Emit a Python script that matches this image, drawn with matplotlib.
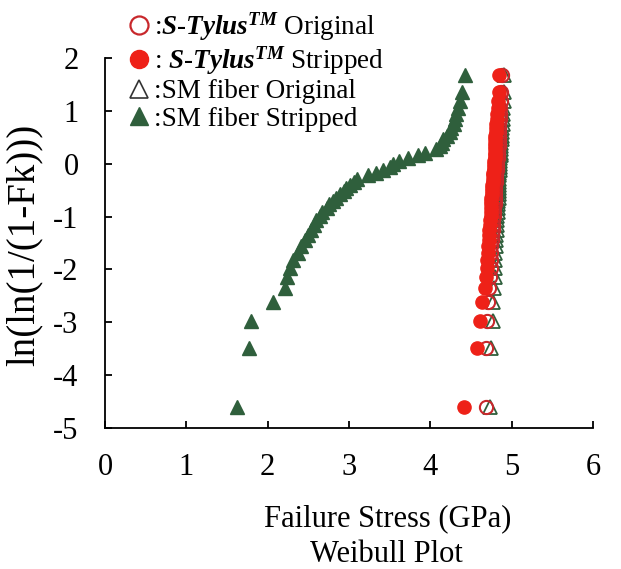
import matplotlib.pyplot as plt
from matplotlib.lines import Line2D

plt.rcParams['font.family'] = 'Liberation Serif'
plt.rcParams['axes.unicode_minus'] = False
plt.rcParams['mathtext.fontset'] = 'custom'
plt.rcParams['mathtext.rm'] = 'Liberation Serif'
plt.rcParams['mathtext.it'] = 'Liberation Serif:italic'
plt.rcParams['mathtext.bf'] = 'Liberation Serif:bold'
plt.rcParams['mathtext.bfit'] = 'Liberation Serif:italic:bold'

# rank positions ln(ln(1/(1-Fk))), 50 specimens per series
weibull_y = [-4.60, -3.49, -2.97, -2.62, -2.36, -2.15, -1.97, -1.82, -1.68, -1.56,
             -1.45, -1.34, -1.25, -1.16, -1.07, -0.99, -0.92, -0.84, -0.77, -0.71,
             -0.64, -0.58, -0.51, -0.45, -0.40, -0.34, -0.28, -0.22, -0.17, -0.11,
             -0.06, -0.01, 0.05, 0.10, 0.16, 0.21, 0.27, 0.33, 0.39, 0.46,
             0.53, 0.60, 0.68, 0.76, 0.85, 0.94, 1.05, 1.18, 1.36, 1.68]

sm_stripped = [1.62, 1.77, 1.79, 2.06, 2.21, 2.24, 2.27, 2.31, 2.37, 2.41,
               2.46, 2.49, 2.53, 2.57, 2.60, 2.64, 2.67, 2.73, 2.76, 2.80,
               2.84, 2.89, 2.94, 2.96, 3.01, 3.06, 3.10, 3.23, 3.33, 3.42,
               3.50, 3.54, 3.62, 3.73, 3.85, 3.93, 4.07, 4.12, 4.14, 4.16,
               4.20, 4.24, 4.26, 4.29, 4.30, 4.32, 4.34, 4.36, 4.39, 4.43]

sm_original = [4.73, 4.75, 4.77, 4.77, 4.78, 4.79, 4.80, 4.80, 4.80, 4.81,
               4.81, 4.81, 4.82, 4.82, 4.82, 4.82, 4.83, 4.83, 4.83, 4.83,
               4.84, 4.84, 4.84, 4.84, 4.85, 4.85, 4.85, 4.85, 4.85, 4.86,
               4.86, 4.86, 4.86, 4.86, 4.87, 4.87, 4.87, 4.87, 4.87, 4.88,
               4.88, 4.88, 4.88, 4.89, 4.89, 4.89, 4.89, 4.90, 4.90, 4.91]

st_original = [4.68, 4.69, 4.70, 4.71, 4.72, 4.73, 4.74, 4.74, 4.75, 4.75,
               4.76, 4.76, 4.77, 4.77, 4.77, 4.78, 4.78, 4.78, 4.79, 4.79,
               4.79, 4.80, 4.80, 4.80, 4.80, 4.81, 4.81, 4.81, 4.81, 4.82,
               4.82, 4.82, 4.82, 4.83, 4.83, 4.83, 4.83, 4.84, 4.84, 4.84,
               4.84, 4.85, 4.85, 4.85, 4.86, 4.86, 4.86, 4.87, 4.87, 4.88]

st_stripped = [4.42, 4.57, 4.61, 4.64, 4.67, 4.69, 4.70, 4.70, 4.71, 4.71,
               4.72, 4.72, 4.72, 4.73, 4.73, 4.74, 4.74, 4.74, 4.75, 4.75,
               4.75, 4.76, 4.76, 4.76, 4.76, 4.77, 4.77, 4.77, 4.77, 4.78,
               4.78, 4.78, 4.78, 4.79, 4.79, 4.79, 4.79, 4.80, 4.80, 4.80,
               4.80, 4.81, 4.81, 4.81, 4.82, 4.82, 4.83, 4.83, 4.84, 4.85]

labels = [r':$\mathbfit{S}$-$\mathbfit{Tylus}^{\mathbfit{TM}}$ Original',
          r': $\mathbfit{S}$-$\mathbfit{Tylus}^{\mathbfit{TM}}$ Stripped',
          ':SM fiber Original',
          ':SM fiber Stripped']

red = '#ee2118'
dred = '#c8282c'
green = '#2f5f3c'

fig = plt.figure(figsize=(6.21, 5.69), dpi=100)
ax = fig.add_axes([105/621, 1-428/569, 488/621, 370/569])

ax.plot(sm_stripped, weibull_y, '^', ms=10.5, color=green, mec=green, ls='none')
ax.plot(sm_original, weibull_y, '^', ms=10.5, mfc='none', mec=green, mew=1.3, ls='none')
ax.plot(st_original, weibull_y, 'o', ms=9.5, mfc='none', mec=dred, mew=1.5, ls='none')
ax.plot(st_stripped, weibull_y, 'o', ms=9.5, color=red, mec=red, ls='none')

ax.set_xlim(0, 6)
ax.set_ylim(-5, 2)
ax.set_xticks(range(0, 7))
ax.set_yticks(range(-5, 3))
ax.spines['top'].set_visible(False)
ax.spines['right'].set_visible(False)
for s in ['left', 'bottom']:
    ax.spines[s].set_linewidth(1.3)
ax.tick_params(direction='in', length=5, width=1.3, labelsize=22)
ax.tick_params(axis='x', pad=18)
ax.tick_params(axis='y', pad=19)

fig.text(24/621, 1-245/569, 'ln(ln(1/(1-Fk)))', fontsize=28, rotation=90,
         ha='center', va='center')

fig.text(388/621, 1-519/569, 'Failure Stress (GPa)', fontsize=22, ha='center', va='center')
fig.text(386/621, 1-554/569, 'Weibull Plot', fontsize=22, ha='center', va='center')

handles = [Line2D([], [], marker='o', ls='none', ms=13, mfc='none', mec=dred, mew=1.6),
           Line2D([], [], marker='o', ls='none', ms=13, color=red),
           Line2D([], [], marker='^', ls='none', ms=13, mfc='none', mec='#333333', mew=1.2),
           Line2D([], [], marker='^', ls='none', ms=13, color=green)]
fig.legend(handles, labels, loc='upper left', bbox_to_anchor=(128/621, 1-10/569),
           frameon=False, fontsize=19.5, handlelength=0.8, handletextpad=0.15,
           labelspacing=0.08, borderpad=0, borderaxespad=0)

fig.savefig('out.png', dpi=100)
